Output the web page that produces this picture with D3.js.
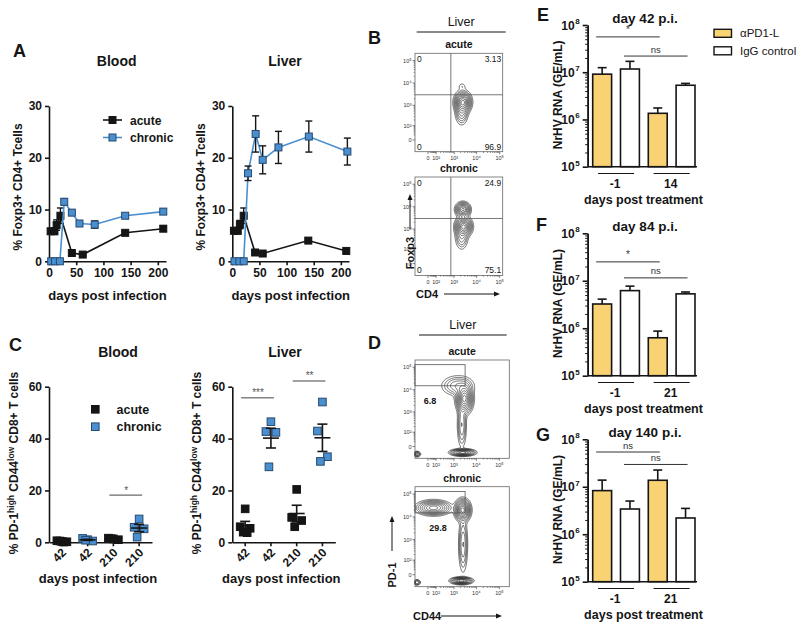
<!DOCTYPE html>
<html lang="en">
<head>
<meta charset="UTF-8">
<title>Foxp3 / PD-1 figure</title>
<script src="https://d3js.org/d3.v7.min.js"></script>
<style>
  body { margin: 0; background: #fff; }
  text { font-family: "Liberation Sans", Arial, sans-serif; }
</style>
</head>
<body>
<svg id="fig" width="800" height="626"></svg>
<script>
// ---------- data ----------
// A: % Foxp3+ of CD4+ T cells over time
const aDayTicks = [0, 50, 100, 150, 200];
const aPctTicks = [0, 10, 20, 30];

const bloodAcuteDays = [3, 10, 14, 21, 42, 62, 140, 210];
const bloodAcute = [5.8, 5.8, 7.0, 8.8, 1.6, 1.3, 5.5, 6.3];
const bloodAcuteErr = [0.4, 0.6, 1.0, 1.5, 0.3, 0.2, 0.3, 0.5];
const bloodChronicDays = [4, 11, 20, 28, 42, 56, 84, 140, 210];
const bloodChronic = [0, 0, 0, 11.5, 9.4, 7.3, 7.1, 8.8, 9.6];
const bloodChronicErr = [0, 0, 0, 0.6, 0.4, 0.5, 0.7, 0.4, 0.5];

const liverAcuteDays = [3, 10, 14, 21, 42, 56, 140, 210];
const liverAcute = [5.9, 5.9, 7.1, 8.8, 1.7, 1.5, 4.0, 2.0];
const liverAcuteErr = [0.3, 0.6, 0.8, 1.5, 0.3, 0.2, 0.4, 0.3];
const liverChronicDays = [4, 13, 21, 29, 43, 56, 85, 141, 212];
const liverChronic = [0, 0, 0, 17.0, 24.6, 19.6, 22.0, 24.1, 21.2];
const liverChronicErr = [0, 0, 0, 1.4, 3.5, 2.7, 3.1, 3.0, 2.6];

// C: % PD-1high CD44low CD8+ T cells, individual mice
const cGroupLabels = ["42", "42", "210", "210"];
const cGroupType = ["acute", "chronic", "acute", "chronic"];
const cPctTicks = [0, 20, 40, 60];
const cBlood = [
  [0.3, 0.6, 0.2, 0.5, 0.1],
  [1.0, 1.5, 0.5, 0.8],
  [1.3, 1.6, 1.0, 1.4],
  [9.0, 5.8, 5.2, 2.0]
];
const cLiver = [
  [12.9, 6.0, 5.4, 3.9, 3.7],
  [46.5, 42.7, 42.4, 29.1],
  [20.4, 9.6, 8.4, 6.0],
  [54.1, 42.9, 33.0, 31.2]
];
// [group a, group b, height, label]
const cBloodSig = [[2, 3, 18.2, "*"]];
const cLiverSig = [[0, 1, 55.7, "***"], [2, 3, 62.2, "**"]];

// B / D: flow cytometry (cluster centres in fluorescence units, spreads in decades)
const flowXTicks = [0, 1e2, 1e3, 1e4, 1e5];
const flowYTicks = [0, 1e2, 1e3, 1e4, 1e5];
const flowTickLabels = ["0", "10\u00B2", "10\u00B3", "10\u2074", "10\u2075"];
const bAcuteClusters = [
  { x: 2500, y: 1400, sx: 0.17, sy: 0.22, w: 1 },
  { x: 2200, y: 500, sx: 0.14, sy: 0.28, w: 0.3 },
  { x: 2300, y: 7000, sx: 0.1, sy: 0.1, w: 0.06 }
];
const bChronicClusters = [
  { x: 2500, y: 7500, sx: 0.15, sy: 0.15, w: 0.85 },
  { x: 2700, y: 1300, sx: 0.17, sy: 0.2, w: 1 },
  { x: 2200, y: 450, sx: 0.14, sy: 0.28, w: 0.25 }
];
const bAcuteQuad = ["0", "3.13", "0", "96.9"];
const bChronicQuad = ["0", "24.9", "0", "75.1"];
const bQuadCut = { x: 700, y: 3000 };

const dAcuteClusters = [
  { x: 3000, y: 4000, sx: 0.17, sy: 0.3, w: 1 },
  { x: 1500, y: 15000, sx: 0.35, sy: 0.22, w: 0.25 },
  { x: 2300, y: 250, sx: 0.1, sy: 0.5, w: 0.25 },
  { x: 2500, y: -25, sx: 0.25, sy: 0.07, w: 0.9 },
  { x: -160, y: -35, sx: 0.08, sy: 0.06, w: 0.3 }
];
const dChronicClusters = [
  { x: 60, y: 25000, sx: 0.35, sy: 0.15, w: 0.7 },
  { x: 2500, y: 20000, sx: 0.16, sy: 0.22, w: 1 },
  { x: 2600, y: 600, sx: 0.1, sy: 0.6, w: 0.25 },
  { x: 2200, y: -25, sx: 0.22, sy: 0.07, w: 0.9 },
  { x: -160, y: -35, sx: 0.08, sy: 0.06, w: 0.25 }
];
const dGate = { x1: 3200, y1: 15000, y2: 130000 };
const dAcuteGatePct = "6.8";
const dChronicGatePct = "29.8";

// E-G: NrHV RNA (GE/mL); bars = aPD1-L, IgG, aPD1-L, IgG
const rnaTicks = [1e5, 1e6, 1e7, 1e8];
const eValues = [9.1e6, 1.17e7, 1.35e6, 5.3e6];
const eErrTop = [1.25e7, 1.7e7, 1.75e6, 5.8e6];
const fValues = [3.24e6, 6.2e6, 6.3e5, 5.3e6];
const fErrTop = [4.1e6, 7.7e6, 8.7e5, 5.8e6];
const gValues = [8.3e6, 3.4e6, 1.37e7, 2.2e6];
const gErrTop = [1.38e7, 5.0e6, 2.25e7, 3.5e6];
const eDays = ["-1", "14"];
const fDays = ["-1", "21"];
const gDays = ["-1", "21"];
const eSig = [[0, 2, 5.6e7, "*"], [1, 3, 2.2e7, "ns"]];
const fSig = [[0, 2, 2.5e7, "*"], [1, 3, 1.15e7, "ns"]];
const gSig = [[0, 2, 5.4e7, "ns"], [1, 3, 2.95e7, "ns"]];

// ---------- drawing ----------
const BLUE = "#4a8fd0";
const BLUE_EDGE = "#27496e";
const ORANGE = "#f9d273";
const INK = "#151515";

const svg = d3.select("#fig");
svg.append("rect").attr("width", 800).attr("height", 626).attr("fill", "#fff");

function txt(x, y, s, size, weight, anchor) {
  return svg.append("text")
    .attr("x", x).attr("y", y)
    .attr("font-size", size)
    .attr("font-weight", weight || "normal")
    .attr("text-anchor", anchor || "middle")
    .attr("fill", INK)
    .text(s);
}

function styleAxis(sel, size) {
  sel.select(".domain").attr("stroke", INK).attr("stroke-width", 1.6);
  sel.selectAll(".tick line").attr("stroke", INK).attr("stroke-width", 1.6);
  sel.selectAll(".tick text")
    .attr("font-family", "'Liberation Sans', Arial, sans-serif")
    .attr("font-weight", "bold")
    .attr("font-size", size)
    .attr("fill", INK);
}

function rotLabel(x, y, size) {
  return svg.append("text")
    .attr("transform", `translate(${x},${y}) rotate(-90)`)
    .attr("text-anchor", "middle")
    .attr("font-size", size)
    .attr("font-weight", "bold")
    .attr("fill", INK);
}

// panel letters
[["A", 13, 57], ["B", 368, 44], ["C", 9, 351], ["D", 368, 349],
 ["E", 537, 21], ["F", 536, 231], ["G", 536, 441]].forEach(d => {
  txt(d[1], d[2], d[0], 18, "bold", "start");
});

// ---- A: time courses ----
function drawTimeCourse(left, right, title, titleX, series) {
  const x = d3.scaleLinear().domain([0, 215]).range([left, right]);
  const y = d3.scaleLinear().domain([0, 30]).range([261.3, 106]);

  txt(titleX, 66, title, 14, "bold");

  svg.append("g").attr("transform", `translate(0,${y(0)})`)
    .call(d3.axisBottom(x).tickValues(aDayTicks).tickSize(4).tickSizeOuter(0))
    .call(s => styleAxis(s, 12));
  svg.append("g").attr("transform", `translate(${x(0)},0)`)
    .call(d3.axisLeft(y).tickValues(aPctTicks).tickSize(4).tickSizeOuter(0))
    .call(s => styleAxis(s, 12));

  series.forEach(sr => {
    const pts = sr.days.map((d, i) => ({ d: d, v: sr.vals[i], e: sr.err[i] }));
    const g = svg.append("g");
    g.append("path").datum(pts)
      .attr("fill", "none").attr("stroke", sr.color).attr("stroke-width", 1.6)
      .attr("d", d3.line().x(p => x(p.d)).y(p => y(p.v)));
    const eb = g.selectAll(".eb").data(pts.filter(p => p.e > 0)).join("g");
    eb.append("line")
      .attr("x1", p => x(p.d)).attr("x2", p => x(p.d))
      .attr("y1", p => y(p.v - p.e)).attr("y2", p => y(p.v + p.e))
      .attr("stroke", INK).attr("stroke-width", 1.4);
    [-1, 1].forEach(sgn => {
      eb.append("line")
        .attr("x1", p => x(p.d) - 3.5).attr("x2", p => x(p.d) + 3.5)
        .attr("y1", p => y(p.v + sgn * p.e)).attr("y2", p => y(p.v + sgn * p.e))
        .attr("stroke", INK).attr("stroke-width", 1.4);
    });
    g.selectAll("rect").data(pts).join("rect")
      .attr("x", p => x(p.d) - 3.5).attr("y", p => y(p.v) - 3.5)
      .attr("width", 7).attr("height", 7)
      .attr("fill", sr.fill).attr("stroke", sr.edge).attr("stroke-width", 1);
  });

  txt(left + 58.5, 300, "days  post infection", 13, "bold");
  rotLabel(left - 27, 187, 12).text("% Foxp3+ CD4+ Tcells");
}

drawTimeCourse(49, 166, "Blood", 116.7, [
  { days: bloodAcuteDays, vals: bloodAcute, err: bloodAcuteErr, color: INK, fill: INK, edge: INK },
  { days: bloodChronicDays, vals: bloodChronic, err: bloodChronicErr, color: BLUE, fill: BLUE, edge: BLUE_EDGE }
]);
drawTimeCourse(232.3, 349, "Liver", 285, [
  { days: liverAcuteDays, vals: liverAcute, err: liverAcuteErr, color: INK, fill: INK, edge: INK },
  { days: liverChronicDays, vals: liverChronic, err: liverChronicErr, color: BLUE, fill: BLUE, edge: BLUE_EDGE }
]);

// A legend
[["acute", INK, INK, INK, 120], ["chronic", BLUE, BLUE, BLUE_EDGE, 137.5]].forEach(l => {
  svg.append("line").attr("x1", 103).attr("x2", 122).attr("y1", l[4]).attr("y2", l[4])
    .attr("stroke", l[1]).attr("stroke-width", 1.6);
  svg.append("rect").attr("x", 109).attr("y", l[4] - 3.5).attr("width", 7).attr("height", 7)
    .attr("fill", l[2]).attr("stroke", l[3]);
  txt(130, l[4] + 4.5, l[0], 12, "bold", "start");
});

// ---- C: scatter ----
const jitterPx = [0, -5, 5, -2, 2];
function drawScatter(left, title, titleX, groups, sig) {
  const x = d3.scaleBand().domain(d3.range(4)).range([left, left + 103]);
  const y = d3.scaleLinear().domain([0, 60]).range([542.3, 386.7]);
  const cx = i => x(i) + x.bandwidth() / 2;

  txt(titleX, 357, title, 14, "bold");

  svg.append("g").attr("transform", `translate(0,${y(0)})`)
    .call(d3.axisBottom(x).tickSize(4).tickSizeOuter(0).tickFormat(""))
    .call(s => styleAxis(s, 12));
  svg.append("g").attr("transform", `translate(${left},0)`)
    .call(d3.axisLeft(y).tickValues(cPctTicks).tickSize(4).tickSizeOuter(0))
    .call(s => styleAxis(s, 12));

  cGroupLabels.forEach((lab, i) => {
    svg.append("text")
      .attr("transform", `translate(${cx(i) + 5},${y(0) + 11}) rotate(-45)`)
      .attr("text-anchor", "end").attr("font-size", 12).attr("font-weight", "bold")
      .attr("fill", INK).text(lab);
  });

  groups.forEach((vals, i) => {
    const chronic = cGroupType[i] === "chronic";
    const g = svg.append("g");
    g.selectAll("rect").data(vals).join("rect")
      .attr("x", (v, k) => cx(i) + jitterPx[k % jitterPx.length] - 3.8)
      .attr("y", v => y(v) - 3.8)
      .attr("width", 7.6).attr("height", 7.6)
      .attr("fill", chronic ? BLUE : INK)
      .attr("stroke", chronic ? BLUE_EDGE : INK).attr("stroke-width", 1);
    const m = d3.mean(vals);
    const sem = d3.deviation(vals) / Math.sqrt(vals.length);
    g.append("line").attr("x1", cx(i) - 8).attr("x2", cx(i) + 8)
      .attr("y1", y(m)).attr("y2", y(m)).attr("stroke", INK).attr("stroke-width", 1.6);
    g.append("line").attr("x1", cx(i)).attr("x2", cx(i))
      .attr("y1", y(Math.max(0, m - sem))).attr("y2", y(m + sem))
      .attr("stroke", INK).attr("stroke-width", 1.6);
    [m - sem, m + sem].forEach(v => {
      g.append("line").attr("x1", cx(i) - 5).attr("x2", cx(i) + 5)
        .attr("y1", y(Math.max(0, v))).attr("y2", y(Math.max(0, v)))
        .attr("stroke", INK).attr("stroke-width", 1.6);
    });
  });

  sig.forEach(s => {
    svg.append("line").attr("x1", cx(s[0]) - 4).attr("x2", cx(s[1]) + 3)
      .attr("y1", y(s[2])).attr("y2", y(s[2])).attr("stroke", "#444").attr("stroke-width", 1);
    txt((cx(s[0]) + cx(s[1])) / 2, y(s[2]) - 1.5, s[3], 10, "normal").attr("fill", "#555");
  });

  txt(left + 49, 583, "days  post infection", 13, "bold");
  const lab = rotLabel(left - 31, 463, 12);
  lab.append("tspan").text("% PD-1");
  lab.append("tspan").attr("font-size", 8.5).attr("dy", -4).text("high");
  lab.append("tspan").attr("dy", 4).text(" CD44");
  lab.append("tspan").attr("font-size", 8.5).attr("dy", -4).text("low");
  lab.append("tspan").attr("dy", 4).text(" CD8+ T cells");
}

drawScatter(49, "Blood", 118, cBlood, cBloodSig);
drawScatter(232.3, "Liver", 285, cLiver, cLiverSig);

// C legend
[["acute", INK, INK, 409.3], ["chronic", BLUE, BLUE_EDGE, 426.7]].forEach(l => {
  svg.append("rect").attr("x", 91.5).attr("y", l[3] - 3.8).attr("width", 7.6).attr("height", 7.6)
    .attr("fill", l[1]).attr("stroke", l[2]);
  txt(116.5, l[3] + 4.5, l[0], 12.5, "bold", "start");
});

// ---- B / D: flow plots ----
const flowLevels = [0.03, 0.06, 0.1, 0.16, 0.24, 0.34, 0.46, 0.6, 0.75, 0.9];
function drawFlow(cfg) {
  const x = d3.scaleSymlog().constant(80).domain(cfg.xDomain).range([cfg.x0, cfg.x1]);
  const y = d3.scaleSymlog().constant(30).domain([-70, 2.1e5]).range([cfg.y1, cfg.y0]);
  const g = svg.append("g");

  txt((cfg.x0 + cfg.x1) / 2, cfg.y0 - 5, cfg.title, 10.5, "bold");

  // density contours from cluster descriptions
  const nx = Math.round(cfg.x1 - cfg.x0), ny = Math.round(cfg.y1 - cfg.y0);
  const decX = x(1e4) - x(1e3), decY = y(1e3) - y(1e4);
  const cl = cfg.clusters.map(c => ({
    cx: x(c.x) - cfg.x0, cy: y(c.y) - cfg.y0, sx: c.sx * decX, sy: c.sy * decY, w: c.w
  }));
  const grid = new Float64Array(nx * ny);
  for (let j = 0; j < ny; j++) {
    for (let i = 0; i < nx; i++) {
      let s = 0;
      cl.forEach(c => {
        const dx = (i + 0.5 - c.cx) / c.sx, dy = (j + 0.5 - c.cy) / c.sy;
        s += c.w * Math.exp(-0.5 * (dx * dx + dy * dy));
      });
      grid[j * nx + i] = s;
    }
  }
  const mx = d3.max(grid);
  const cont = d3.contours().size([nx, ny]).smooth(true)
    .thresholds(flowLevels.map(l => l * mx))(grid);
  g.append("g").attr("transform", `translate(${cfg.x0},${cfg.y0})`)
    .selectAll("path").data(cont).join("path")
    .attr("d", d3.geoPath())
    .attr("fill", "none").attr("stroke", "#111").attr("stroke-width", 0.6);

  // frame
  g.append("rect").attr("x", cfg.x0).attr("y", cfg.y0)
    .attr("width", cfg.x1 - cfg.x0).attr("height", cfg.y1 - cfg.y0)
    .attr("fill", "none").attr("stroke", "#666").attr("stroke-width", 0.8);

  // ticks
  const minors = [];
  [1, 2, 3, 4].forEach(p => d3.range(2, 10).forEach(k => minors.push(k * Math.pow(10, p))));
  flowXTicks.forEach((v, i) => {
    g.append("line").attr("x1", x(v)).attr("x2", x(v)).attr("y1", cfg.y1).attr("y2", cfg.y1 + 2.5)
      .attr("stroke", "#333").attr("stroke-width", 0.6);
    g.append("text").attr("x", x(v)).attr("y", cfg.y1 + 8.5).attr("text-anchor", "middle")
      .attr("font-size", 5.5).attr("fill", "#333").text(flowTickLabels[i]);
  });
  flowYTicks.forEach((v, i) => {
    g.append("line").attr("x1", cfg.x0).attr("x2", cfg.x0 - 2.5).attr("y1", y(v)).attr("y2", y(v))
      .attr("stroke", "#333").attr("stroke-width", 0.6);
    g.append("text").attr("x", cfg.x0 - 3.5).attr("y", y(v) + 2).attr("text-anchor", "end")
      .attr("font-size", 5.5).attr("fill", "#333").text(flowTickLabels[i]);
  });
  minors.filter(v => v < cfg.xDomain[1]).forEach(v => {
    g.append("line").attr("x1", x(v)).attr("x2", x(v)).attr("y1", cfg.y1).attr("y2", cfg.y1 + 1.3)
      .attr("stroke", "#333").attr("stroke-width", 0.5);
  });
  minors.forEach(v => {
    g.append("line").attr("x1", cfg.x0).attr("x2", cfg.x0 - 1.3).attr("y1", y(v)).attr("y2", y(v))
      .attr("stroke", "#333").attr("stroke-width", 0.5);
  });

  if (cfg.quad) {
    g.append("line").attr("x1", x(bQuadCut.x)).attr("x2", x(bQuadCut.x))
      .attr("y1", cfg.y0).attr("y2", cfg.y1).attr("stroke", "#555").attr("stroke-width", 0.8);
    g.append("line").attr("x1", cfg.x0).attr("x2", cfg.x1)
      .attr("y1", y(bQuadCut.y)).attr("y2", y(bQuadCut.y)).attr("stroke", "#555").attr("stroke-width", 0.8);
    const q = cfg.quad;
    txt(cfg.x0 + 2, cfg.y0 + 9, q[0], 8.5, "normal", "start");
    txt(cfg.x1 - 1.5, cfg.y0 + 9, q[1], 8.5, "normal", "end");
    txt(cfg.x0 + 2, cfg.y1 - 2, q[2], 8.5, "normal", "start");
    txt(cfg.x1 - 1.5, cfg.y1 - 2, q[3], 8.5, "normal", "end");
  }
  if (cfg.gatePct) {
    g.append("rect").attr("x", cfg.x0).attr("y", y(dGate.y2))
      .attr("width", x(dGate.x1) - cfg.x0).attr("height", y(dGate.y1) - y(dGate.y2))
      .attr("fill", "none").attr("stroke", "#555").attr("stroke-width", 0.8);
    txt(cfg.x0 + cfg.gateLabelDx, y(dGate.y1) + 18, cfg.gatePct, 9, "bold");
  }
}

function header(y, x0, x1) {
  txt((x0 + x1) / 2, y, "Liver", 12.5, "normal");
  svg.append("line").attr("x1", x0).attr("x2", x1).attr("y1", y + 6.5).attr("y2", y + 6.5)
    .attr("stroke", INK).attr("stroke-width", 1);
}

function arrows(vx, vTextY, vLabel, vTop, hy, hLabel, hStart, hEnd) {
  rotLabel(vx, vTextY, 11).text(vLabel);
  const lx = vx - 4;
  svg.append("line").attr("x1", lx).attr("x2", lx).attr("y1", vTextY - 24).attr("y2", vTop + 5)
    .attr("stroke", INK).attr("stroke-width", 1);
  svg.append("path").attr("d", `M${lx - 2.5},${vTop + 6}L${lx},${vTop}L${lx + 2.5},${vTop + 6}Z`).attr("fill", INK);
  txt(hStart - 2, hy + 4, hLabel, 11, "bold", "start");
  svg.append("line").attr("x1", hStart + 26).attr("x2", hEnd - 5).attr("y1", hy).attr("y2", hy)
    .attr("stroke", INK).attr("stroke-width", 1);
  svg.append("path").attr("d", `M${hEnd - 6},${hy - 2.5}L${hEnd},${hy}L${hEnd - 6},${hy + 2.5}Z`).attr("fill", INK);
}

header(25.5, 416.7, 505.7);
drawFlow({ title: "acute", x0: 415, x1: 502.7, y0: 53.3, y1: 151.7, xDomain: [-210, 1.35e5],
  clusters: bAcuteClusters, quad: bAcuteQuad });
drawFlow({ title: "chronic", x0: 415, x1: 502.7, y0: 177, y1: 275.4, xDomain: [-210, 1.35e5],
  clusters: bChronicClusters, quad: bChronicQuad });
arrows(414, 253, "Foxp3", 194, 294, "CD4", 418, 500);

header(328.5, 419, 506.7);
drawFlow({ title: "acute", x0: 415, x1: 509.3, y0: 360, y1: 458.3, xDomain: [-210, 2.7e5],
  clusters: dAcuteClusters, gatePct: dAcuteGatePct, gateLabelDx: 15 });
drawFlow({ title: "chronic", x0: 415, x1: 509.3, y0: 486.7, y1: 586.7, xDomain: [-210, 2.7e5],
  clusters: dChronicClusters, gatePct: dChronicGatePct, gateLabelDx: 23 });
arrows(396, 575, "PD-1", 516, 616, "CD44", 415, 502);

// ---- E-G: bar charts ----
function drawBars(top, bottom, title, vals, errTop, days, sig) {
  const left = 587.7;
  const x = d3.scaleBand().domain(d3.range(4)).range([left, 700]).paddingInner(0.32).paddingOuter(0.18);
  const y = d3.scaleLog().domain([1e5, 1e8]).range([bottom, top]);
  const cx = i => x(i) + x.bandwidth() / 2;
  const axisEnd = x(3) + x.bandwidth() + 2;

  txt(645, top - 2.5, title, 13.5, "bold");

  // y axis: major + minor log ticks
  const minors = [];
  [5, 6, 7].forEach(p => d3.range(2, 10).forEach(k => minors.push(k * Math.pow(10, p))));
  svg.append("g").attr("transform", `translate(${left},0)`)
    .call(d3.axisLeft(y).tickValues(minors).tickSize(2.5).tickSizeOuter(0).tickFormat(""))
    .call(s => styleAxis(s, 12))
    .call(s => s.selectAll(".tick line").attr("stroke-width", 1));
  svg.append("g").attr("transform", `translate(${left},0)`)
    .call(d3.axisLeft(y).tickValues(rnaTicks).tickSize(5).tickSizeOuter(0).tickFormat(""))
    .call(s => styleAxis(s, 12));
  rnaTicks.forEach(v => {
    svg.append("text").attr("x", left - 13).attr("y", y(v) + 4.5)
      .attr("text-anchor", "end").attr("font-size", 12).attr("font-weight", "bold").attr("fill", INK)
      .text("10");
    svg.append("text").attr("x", left - 12.5).attr("y", y(v) - 1)
      .attr("text-anchor", "start").attr("font-size", 8).attr("font-weight", "bold").attr("fill", INK)
      .text(Math.round(Math.log10(v)));
  });
  svg.append("line").attr("x1", left).attr("x2", axisEnd).attr("y1", bottom).attr("y2", bottom)
    .attr("stroke", INK).attr("stroke-width", 1.6);

  // bars
  const g = svg.append("g");
  g.selectAll("rect").data(vals).join("rect")
    .attr("x", (v, i) => x(i)).attr("width", x.bandwidth())
    .attr("y", v => y(v)).attr("height", v => bottom - y(v))
    .attr("fill", (v, i) => i % 2 === 0 ? ORANGE : "#fff")
    .attr("stroke", INK).attr("stroke-width", 1.6);
  vals.forEach((v, i) => {
    g.append("line").attr("x1", cx(i)).attr("x2", cx(i)).attr("y1", y(v)).attr("y2", y(errTop[i]))
      .attr("stroke", INK).attr("stroke-width", 1.6);
    g.append("line").attr("x1", cx(i) - 4.5).attr("x2", cx(i) + 4.5)
      .attr("y1", y(errTop[i])).attr("y2", y(errTop[i]))
      .attr("stroke", INK).attr("stroke-width", 1.6);
  });

  // significance
  sig.forEach(s => {
    svg.append("line").attr("x1", cx(s[0]) - 6).attr("x2", cx(s[1]) + 2)
      .attr("y1", y(s[2])).attr("y2", y(s[2])).attr("stroke", "#333").attr("stroke-width", 1);
    txt((cx(s[0]) + cx(s[1])) / 2 - 2, y(s[2]) - 3.5, s[3], s[3] === "*" ? 10 : 9.5, "normal").attr("fill", "#333");
  });

  // treatment day groups
  days.forEach((d, k) => {
    const c = (cx(2 * k) + cx(2 * k + 1)) / 2;
    svg.append("line").attr("x1", c - 18).attr("x2", c + 18)
      .attr("y1", bottom + 6.8).attr("y2", bottom + 6.8).attr("stroke", INK).attr("stroke-width", 1);
    txt(c - 1, bottom + 21.5, d, 12, "bold");
  });
  txt(643.5, bottom + 37.5, "days post treatment", 12.5, "bold");
  rotLabel(562, (top + bottom) / 2 - 1, 12).text("NrHV RNA (GE/mL)");
}

drawBars(25, 166.7, "day 42 p.i.", eValues, eErrTop, eDays, eSig);
drawBars(233.3, 375.7, "day 84 p.i.", fValues, fErrTop, fDays, fSig);
drawBars(439.3, 581.7, "day 140 p.i.", gValues, gErrTop, gDays, gSig);

// E legend
[["\u03B1PD1-L", ORANGE, 33.3], ["IgG control", "#fff", 50.8]].forEach(l => {
  svg.append("rect").attr("x", 714).attr("y", l[2] - 4).attr("width", 17.5).attr("height", 8)
    .attr("fill", l[1]).attr("stroke", INK).attr("stroke-width", 1.4);
  txt(740, l[2] + 4, l[0], 11.5, "normal", "start");
});
</script>
</body>
</html>
